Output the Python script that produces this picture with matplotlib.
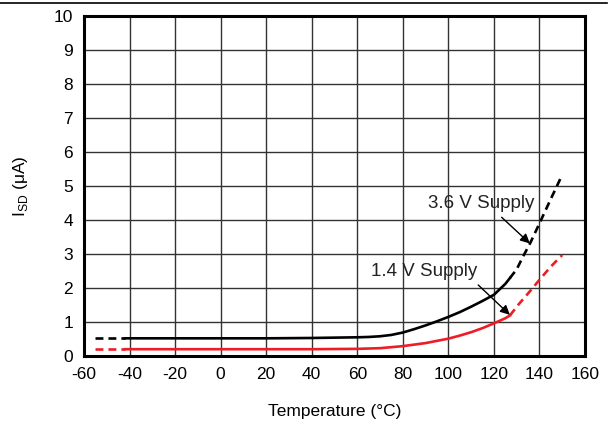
import matplotlib
matplotlib.use("Agg")
import matplotlib.pyplot as plt
from matplotlib.lines import Line2D

plt.rcParams["font.family"] = ["Liberation Sans", "DejaVu Sans"]
plt.rcParams["mathtext.fontset"] = "custom"
plt.rcParams["mathtext.rm"] = "Liberation Sans"
plt.rcParams["axes.unicode_minus"] = False

# 3.6 V supply (black)
black_stub_x = [-55, -42]
black_stub_y = [0.52, 0.52]
black_solid_x = [-42, -20, 0, 20, 40, 50, 60, 65, 70, 75, 80, 85, 90, 95,
                 100, 105, 110, 115, 120, 125, 127]
black_solid_y = [0.52, 0.52, 0.52, 0.52, 0.53, 0.54, 0.55, 0.56, 0.58, 0.62,
                 0.69, 0.79, 0.90, 1.02, 1.15, 1.29, 1.45, 1.62, 1.80, 2.12, 2.29]
black_dash_x = [127, 130, 133, 136, 140, 145, 150]
black_dash_y = [2.29, 2.55, 2.95, 3.33, 3.90, 4.62, 5.33]

# 1.4 V supply (red)
red_stub_x = [-55, -42]
red_stub_y = [0.20, 0.20]
red_solid_x = [-42, -20, 0, 20, 40, 60, 70, 80, 90, 100, 105, 110, 115, 120,
               125, 127]
red_solid_y = [0.20, 0.20, 0.20, 0.20, 0.20, 0.21, 0.23, 0.29, 0.38, 0.51,
               0.60, 0.70, 0.82, 0.96, 1.11, 1.19]
red_dash_x = [127, 131, 135, 140, 145, 150]
red_dash_y = [1.19, 1.53, 1.84, 2.24, 2.63, 2.97]

RED = "#ee1c25"
LW = 1.9
DASH = (0, (3.0, 1.9))

fig = plt.figure(figsize=(6.15, 4.28), dpi=100)
ax = fig.add_axes([84 / 615, 72 / 428, 501 / 615, 340 / 428])

ax.plot(black_stub_x, black_stub_y, color="black", lw=LW, linestyle=DASH)
ax.plot(black_solid_x, black_solid_y, color="black", lw=LW)
ax.plot(black_dash_x, black_dash_y, color="black", lw=LW, linestyle=DASH)
ax.plot(red_stub_x, red_stub_y, color=RED, lw=LW, linestyle=DASH)
ax.plot(red_solid_x, red_solid_y, color=RED, lw=LW)
ax.plot(red_dash_x, red_dash_y, color=RED, lw=LW, linestyle=DASH)

ax.set_xlim(-60, 160)
ax.set_ylim(0, 10)
ax.set_xticks(range(-60, 161, 20))
ax.set_yticks(range(0, 11))
ax.grid(True, color="#333333", linewidth=1.0)
ax.set_axisbelow(True)
ax.tick_params(length=0, labelsize=12.5, pad=8)
for s in ax.spines.values():
    s.set_linewidth(2.2)
    s.set_color("black")

ax.set_xlabel("Temperature (°C)", fontsize=12.5, labelpad=16)
ax.set_ylabel(r"$\mathrm{I}_{\mathrm{SD}}$ (μA)", fontsize=12.5, labelpad=17)

arrow = dict(arrowstyle="-|>", color="black", lw=1.0, mutation_scale=14,
             shrinkA=0, shrinkB=0)
ax.annotate("", xy=(135.8, 3.31), xytext=(123.4, 4.08), arrowprops=arrow)
ax.annotate("", xy=(127.0, 1.21), xytext=(113.1, 2.09), arrowprops=arrow)
ax.text(114.3, 4.5, "3.6 V Supply", fontsize=13.5, ha="center", va="center",
        color="#222222")
ax.text(89.3, 2.5, "1.4 V Supply", fontsize=13.5, ha="center", va="center",
        color="#222222")

fig.add_artist(Line2D([0, 607 / 615], [1 - 2.5 / 428, 1 - 2.5 / 428],
                      transform=fig.transFigure, color="black", lw=1.2))

fig.savefig("out.png", dpi=100)
